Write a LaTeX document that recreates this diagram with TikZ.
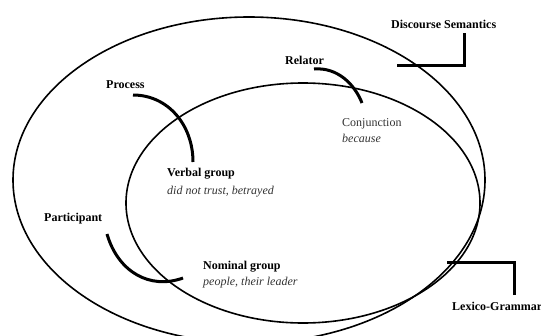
\documentclass[tikz,border=0pt]{standalone}
\usepackage{fontspec}
\setmainfont{Liberation Serif}
\begin{document}
\begin{tikzpicture}[x=1pt,y=-1pt,
  ring/.style={line width=1.6pt},
  link/.style={line width=3pt},
  bracket/.style={line width=3pt},
  head/.style={font=\fontsize{12}{14}\selectfont\bfseries, inner sep=0pt, anchor=base west},
  gloss/.style={font=\fontsize{12}{14}\selectfont\itshape, text=black!80, inner sep=0pt, anchor=base west},
  plain/.style={font=\fontsize{12}{14}\selectfont, text=black!80, inner sep=0pt, anchor=base west}]
\useasboundingbox (0,0) rectangle (541,335);

% the two strata
\draw[ring] (249,180) ellipse [x radius=236pt, y radius=163pt];
\draw[ring] (303,203) ellipse [x radius=177pt, y radius=120pt];

% stratum labels with their brackets
\node[head] (ds) at (391,28) {Discourse Semantics};
\node[head] (lg) at (452,310) {Lexico-Grammar};
\coordinate (dsA) at (464,33);
\coordinate (dsB) at (464,65);
\coordinate (dsC) at (397,65);
\coordinate (lgA) at (514,295);
\coordinate (lgB) at (514,262);
\coordinate (lgC) at (447,262);
\draw[bracket] (dsA) -- (dsB) -- (dsC);
\draw[bracket] (lgA) -- (lgB) -- (lgC);

% discourse semantic roles
\node[head] (proc) at (106,88) {Process};
\node[head] (rel) at (285,64) {Relator};
\node[head] (part) at (44,221) {Participant};

% grammatical realisations
\node[head] (vg) at (167,176) {Verbal group};
\node[gloss] (vgx) at (167,194) {did not trust, betrayed};
\node[plain] (conj) at (342,126) {Conjunction};
\node[gloss] (conjx) at (342,142.5) {because};
\node[head] (ng) at (203,269) {Nominal group};
\node[gloss] (ngx) at (203,285.5) {people, their leader};

% realisation arcs
\coordinate (procE) at (133,95);
\coordinate (vgE) at (193,162);
\coordinate (relE) at (314,69);
\coordinate (conjE) at (362,103);
\coordinate (partE) at (107,234);
\coordinate (ngE) at (183,278);
\draw[link] (procE) .. controls (168,95) and (193,125) .. (vgE);
\draw[link] (relE) .. controls (338,67) and (355,85) .. (conjE);
\draw[link] (partE) .. controls (118,272) and (150,290) .. (ngE);
\end{tikzpicture}
\end{document}
